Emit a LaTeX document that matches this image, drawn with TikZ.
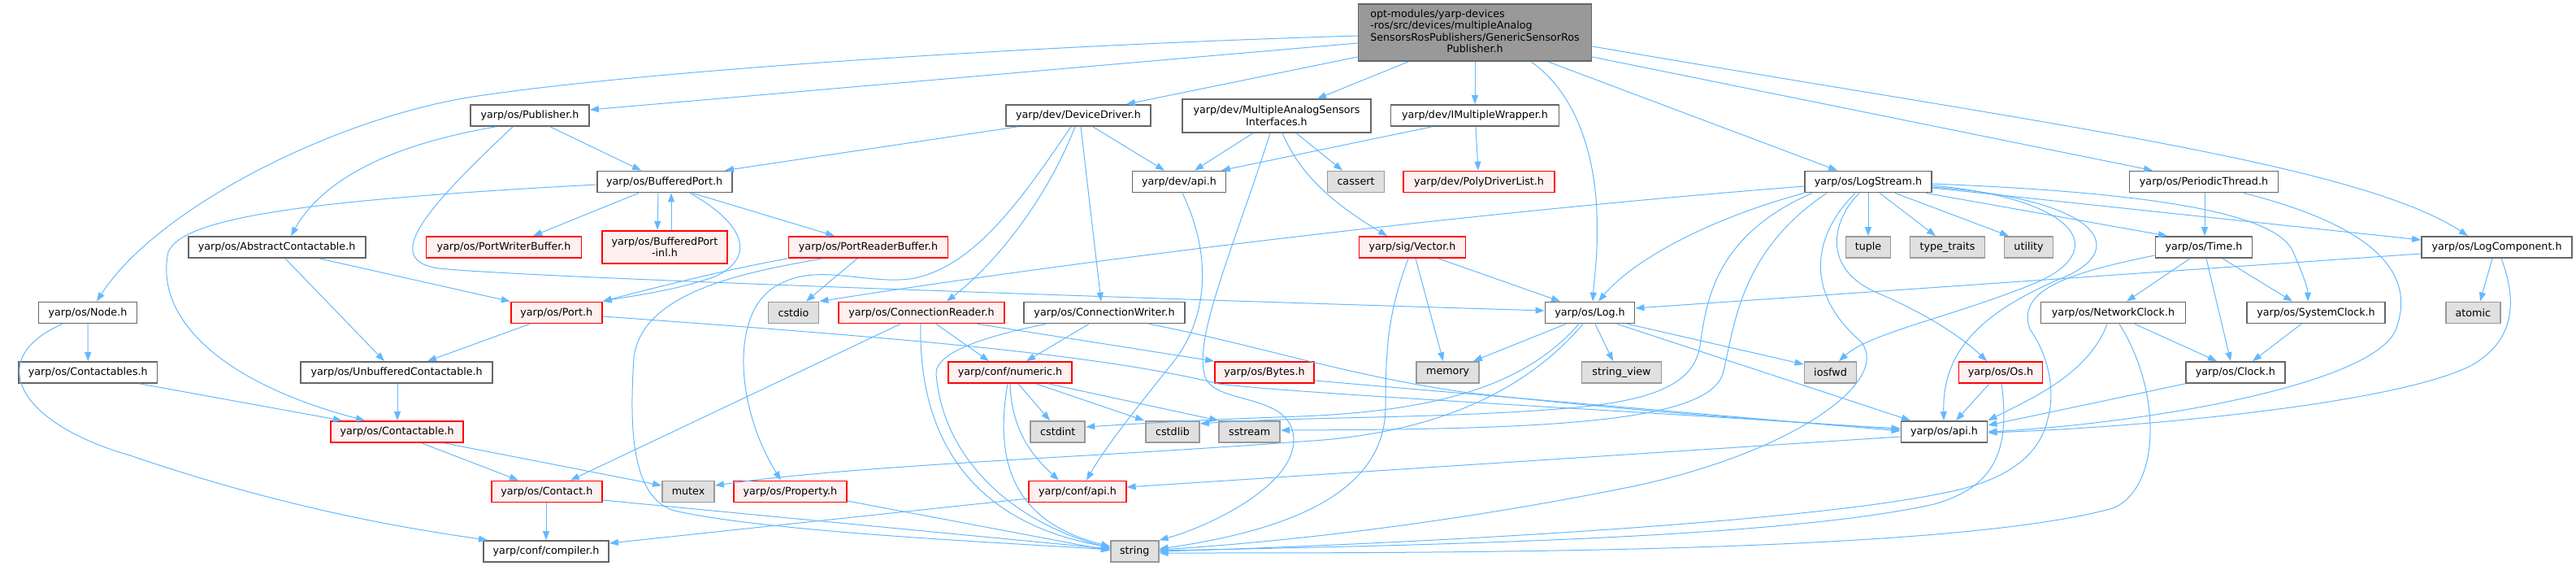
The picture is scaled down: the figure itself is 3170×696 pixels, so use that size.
\documentclass[tikz,border=0pt]{standalone}
\usepackage{fontspec}
\setmainfont{DejaVu Sans}
\usetikzlibrary{arrows.meta}
\definecolor{edgec}{HTML}{63B8FF}
\definecolor{bordgray}{HTML}{666666}
\definecolor{extbord}{HTML}{999999}
\definecolor{extfill}{HTML}{E0E0E0}
\definecolor{redfill}{HTML}{FFF0F0}
\definecolor{topfill}{HTML}{999999}
\begin{document}
\begin{tikzpicture}[x=1pt,y=-1pt,
  base/.style={rectangle, inner sep=0pt, minimum height=26pt, line width=1.8pt,
    font=\fontsize{12.7}{14.5}\selectfont, text=black, align=center},
  wbox/.style={base, draw=bordgray, fill=white},
  rbox/.style={base, draw=red, fill=redfill},
  xbox/.style={base, draw=extbord, fill=extfill},
  tbox/.style={base, draw=bordgray, fill=topfill},
  dep/.style={draw=edgec, line width=1pt, -{Triangle[length=11pt,width=8pt]}}
]
\useasboundingbox (0,0) rectangle (3170,696);
% ---------- nodes ----------
\node[tbox, minimum width=287pt, minimum height=70pt] (top) at (1815,40)
  {\begin{tabular}{@{}l@{}}opt-modules/yarp-devices\\-ros/src/devices/multipleAnalog\\SensorsRosPublishers/GenericSensorRos\\\multicolumn{1}{@{}c@{}}{Publisher.h}\end{tabular}};
\node[wbox, minimum width=146pt] (pub) at (652,142) {yarp/os/Publisher.h};
\node[wbox, minimum width=178pt] (dd) at (1327,142) {yarp/dev/DeviceDriver.h};
\node[wbox, minimum width=232pt, minimum height=40.5pt] (mas) at (1571,142.5) {yarp/dev/MultipleAnalogSensors\\Interfaces.h};
\node[wbox, minimum width=207pt] (imw) at (1815,142) {yarp/dev/IMultipleWrapper.h};
\node[wbox, minimum width=166pt] (bp) at (817.6,223.5) {yarp/os/BufferedPort.h};
\node[wbox, minimum width=115pt] (dapi) at (1451,223.5) {yarp/dev/api.h};
\node[xbox, minimum width=70pt] (cass) at (1668.5,223.5) {cassert};
\node[rbox, minimum width=186pt] (pdl) at (1820,223.5) {yarp/dev/PolyDriverList.h};
\node[wbox, minimum width=156pt] (ls) at (2299,223.5) {yarp/os/LogStream.h};
\node[wbox, minimum width=183pt] (pt) at (2712,223.5) {yarp/os/PeriodicThread.h};
\node[wbox, minimum width=218pt] (ac) at (340.6,304) {yarp/os/AbstractContactable.h};
\node[rbox, minimum width=191pt] (pwb) at (620,304) {yarp/os/PortWriterBuffer.h};
\node[rbox, minimum width=154pt, minimum height=40pt] (bpi) at (818,303.7) {yarp/os/BufferedPort\\-inl.h};
\node[rbox, minimum width=196pt] (prb) at (1068.5,304) {yarp/os/PortReaderBuffer.h};
\node[rbox, minimum width=131pt] (vec) at (1738,304) {yarp/sig/Vector.h};
\node[xbox, minimum width=55pt] (tup) at (2299,304) {tuple};
\node[xbox, minimum width=92pt] (tt) at (2396.5,304) {type\_traits};
\node[xbox, minimum width=60pt] (util) at (2496.5,304) {utility};
\node[wbox, minimum width=119pt] (tim) at (2712,304) {yarp/os/Time.h};
\node[wbox, minimum width=185pt] (lc) at (3072.5,304) {yarp/os/LogComponent.h};
\node[wbox, minimum width=121pt] (nod) at (108,384.5) {yarp/os/Node.h};
\node[rbox, minimum width=112pt] (prt) at (684.7,384.5) {yarp/os/Port.h};
\node[xbox, minimum width=62pt] (cstdio) at (976.5,384.5) {cstdio};
\node[rbox, minimum width=204pt] (cr) at (1134,384.5) {yarp/os/ConnectionReader.h};
\node[wbox, minimum width=198.5pt] (cw) at (1359,384.5) {yarp/os/ConnectionWriter.h};
\node[wbox, minimum width=110pt] (lg) at (1956.5,384.5) {yarp/os/Log.h};
\node[wbox, minimum width=178pt] (nc) at (2600.5,384.5) {yarp/os/NetworkClock.h};
\node[wbox, minimum width=170pt] (sc) at (2850,384.5) {yarp/os/SystemClock.h};
\node[xbox, minimum width=67pt] (atom) at (3043.3,384.5) {atomic};
\node[wbox, minimum width=170.5pt] (ctbs) at (108.3,458) {yarp/os/Contactables.h};
\node[wbox, minimum width=236pt] (uc) at (488.2,458) {yarp/os/UnbufferedContactable.h};
\node[rbox, minimum width=152pt] (num) at (1243,458) {yarp/conf/numeric.h};
\node[rbox, minimum width=122pt] (byt) at (1556,458) {yarp/os/Bytes.h};
\node[xbox, minimum width=77pt] (mem) at (1781.7,458) {memory};
\node[xbox, minimum width=98pt] (sv) at (1995.5,458) {string\_view};
\node[xbox, minimum width=64pt] (iosf) at (2252.5,458) {iosfwd};
\node[rbox, minimum width=103pt] (os) at (2462,458) {yarp/os/Os.h};
\node[wbox, minimum width=122pt] (clk) at (2750.8,458) {yarp/os/Clock.h};
\node[rbox, minimum width=163pt] (ctb) at (488.6,531) {yarp/os/Contactable.h};
\node[xbox, minimum width=67pt] (cint) at (1301.8,531) {cstdint};
\node[xbox, minimum width=66pt] (clib) at (1443,531) {cstdlib};
\node[xbox, minimum width=75pt] (sstr) at (1537.7,531) {sstream};
\node[wbox, minimum width=106pt] (oapi) at (2392.5,531) {yarp/os/api.h};
\node[rbox, minimum width=136pt] (cnt) at (672.8,604.5) {yarp/os/Contact.h};
\node[xbox, minimum width=64pt] (mtx) at (847,604.5) {mutex};
\node[rbox, minimum width=139pt] (prop) at (972.3,604.5) {yarp/os/Property.h};
\node[rbox, minimum width=119.4pt] (capi) at (1326,604.5) {yarp/conf/api.h};
\node[wbox, minimum width=154pt] (comp) at (672,678) {yarp/conf/compiler.h};
\node[xbox, minimum width=58.7pt] (str) at (1396.3,678) {string};
% ---------- edges ----------
% top
\draw[dep] (top.west |- 0,44) .. controls (1300,55) and (800,85) .. (575,120) .. controls (400,150) and (190,260) .. (119,0 |- nod.north);
\draw[dep] (top.west |- 0,53) -- (pub.east |- 0,135);
\draw[dep] (top.west |- 0,70) -- (1386,0 |- dd.north);
\draw[dep] (1733,0 |- top.south) -- (1621,0 |- mas.north);
\draw[dep] (1815,0 |- top.south) -- (1815,0 |- imw.north);
\draw[dep] (1884,0 |- top.south) .. controls (1940,115) and (1962,190) .. (1965,260) .. controls (1967,310) and (1962,340) .. (1960,0 |- lg.north);
\draw[dep] (1905,0 |- top.south) -- (2261,0 |- ls.north);
\draw[dep] (top.east |- 0,70) -- (2649,0 |- pt.north);
\draw[dep] (top.east |- 0,57) .. controls (2500,150) and (2900,200) .. (3037,0 |- lc.north);
% publisher
\draw[dep] (677,0 |- pub.south) -- (789,0 |- bp.north);
\draw[dep] (610,0 |- pub.south) .. controls (470,180) and (395,225) .. (358,0 |- ac.north);
\draw[dep] (631,0 |- pub.south) .. controls (520,260) and (470,320) .. (540,330) .. controls (650,342) and (1500,370) .. (lg.west |- 0,382);
% device driver
\draw[dep] (1252,0 |- dd.south) -- (892,0 |- bp.north);
\draw[dep] (1345,0 |- dd.south) -- (1433,0 |- dapi.north);
\draw[dep] (1323,0 |- dd.south) .. controls (1290,240) and (1230,320) .. (1165,0 |- cr.north);
\draw[dep] (1318,0 |- dd.south) .. controls (1260,240) and (1200,330) .. (1120,343) .. controls (1060,350) and (1000,320) .. (950,355) .. controls (900,390) and (905,500) .. (961,0 |- prop.north);
\draw[dep] (1330,0 |- dd.south) -- (1355,0 |- cw.north);
% multiple analog sensors
\draw[dep] (1542,0 |- mas.south) -- (1470,0 |- dapi.north);
\draw[dep] (1595,0 |- mas.south) -- (1652,0 |- cass.north);
\draw[dep] (1578,0 |- mas.south) .. controls (1600,215) and (1640,250) .. (1707,0 |- vec.north);
\draw[dep] (1563,0 |- mas.south) .. controls (1520,300) and (1470,410) .. (1482,460) .. controls (1490,500) and (1590,480) .. (1592,540) .. controls (1593,600) and (1480,650) .. (str.north east);
% imultiplewrapper
\draw[dep] (1762,0 |- imw.south) -- (1503,0 |- dapi.north);
\draw[dep] (1816,0 |- imw.south) -- (1819,0 |- pdl.north);
% dev api
\draw[dep] (1455,0 |- dapi.south) .. controls (1490,310) and (1490,390) .. (1440,450) .. controls (1400,500) and (1360,550) .. (1337,0 |- capi.north);
% buffered port
\draw[dep] (786,0 |- bp.south) -- (656,0 |- pwb.north);
\draw[dep] (810,0 |- bp.south) -- (809,0 |- bpi.north);
\draw[dep] (826,0 |- bpi.north) -- (826,0 |- bp.south);
\draw[dep] (852,0 |- bp.south) -- (1027,0 |- prb.north);
\draw[dep] (849,0 |- bp.south) .. controls (925,280) and (925,320) .. (880,340) .. controls (830,358) and (770,365) .. (prt.north east);
\draw[dep] (bp.west |- 0,227) .. controls (400,245) and (225,265) .. (207,310) .. controls (190,390) and (270,470) .. (449,0 |- ctb.north);
% abstract contactable
\draw[dep] (351,0 |- ac.south) -- (473,0 |- uc.north);
\draw[dep] (393,0 |- ac.south) -- (prt.north west);
% port reader buffer
\draw[dep] (1055,0 |- prb.south) -- (992,0 |- cstdio.north);
\draw[dep] (prb.south west) .. controls (900,330) and (800,355) .. (prt.north east);
\draw[dep] (1012,0 |- prb.south) .. controls (930,333) and (790,355) .. (780,440) .. controls (775,520) and (775,612) .. (830,628) .. controls (950,655) and (1250,668) .. (str.west |- 0,676);
% port
\draw[dep] (652,0 |- prt.south) -- (526,0 |- uc.north);
\draw[dep] (prt.east |- 0,389) .. controls (1100,415) and (1350,435) .. (1500,472) .. controls (1600,485) and (2100,510) .. (oapi.west |- 0,528);
% node
\draw[dep] (nod.south) -- (ctbs.north);
\draw[dep] (77,0 |- nod.south) .. controls (-20,440) and (20,520) .. (160,560) .. controls (350,625) and (500,650) .. (600,0 |- comp.north);
% contactables
\draw[dep] (172,0 |- ctbs.south) -- (421,0 |- ctb.north);
\draw[dep] (489,0 |- uc.south) -- (489,0 |- ctb.north);
\draw[dep] (519,0 |- ctb.south) -- (638,0 |- cnt.north);
\draw[dep] (547,0 |- ctb.south) -- (mtx.west |- 0,597);
\draw[dep] (672,0 |- cnt.south) -- (672,0 |- comp.north);
\draw[dep] (cnt.east |- 0,615) -- (str.west |- 0,675);
\draw[dep] (prop.east |- 0,616) -- (str.west |- 0,677);
\draw[dep] (capi.west |- 0,613) -- (comp.east |- 0,668);
% connection reader
\draw[dep] (1108,0 |- cr.south) -- (702,0 |- cnt.north);
\draw[dep] (1152,0 |- cr.south) -- (1217,0 |- num.north);
\draw[dep] (1133,0 |- cr.south) .. controls (1130,520) and (1180,640) .. (str.west |- 0,673);
\draw[dep] (1203,0 |- cr.south) -- (byt.north west);
% connection writer
\draw[dep] (1340,0 |- cw.south) -- (1263,0 |- num.north);
\draw[dep] (1287,0 |- cw.south) .. controls (1230,410) and (1150,430) .. (1152,460) .. controls (1160,560) and (1240,640) .. (str.west |- 0,674);
\draw[dep] (1414,0 |- cw.south) .. controls (1550,425) and (1650,460) .. (1800,482) .. controls (1950,500) and (2200,520) .. (oapi.west |- 0,527);
% numeric
\draw[dep] (1253,0 |- num.south) -- (1292,0 |- cint.north);
\draw[dep] (1275,0 |- num.south) -- (1408,0 |- clib.north);
\draw[dep] (1290,0 |- num.south) -- (sstr.north west);
\draw[dep] (1243,0 |- num.south) .. controls (1245,530) and (1270,560) .. (1303,0 |- capi.north);
\draw[dep] (1240,0 |- num.south) .. controls (1225,560) and (1240,640) .. (str.west |- 0,672);
% bytes
\draw[dep] (byt.east |- 0,468) -- (oapi.west |- 0,530);
% vector
\draw[dep] (1770,0 |- vec.south) -- (1920,0 |- lg.north);
\draw[dep] (1742,0 |- vec.south) -- (1776,0 |- mem.north);
\draw[dep] (1733,0 |- vec.south) .. controls (1710,380) and (1705,420) .. (1705,500) .. controls (1705,600) and (1600,650) .. (str.east |- 0,675);
% log
\draw[dep] (1927,0 |- lg.south) -- (1813,0 |- mem.north);
\draw[dep] (1963,0 |- lg.south) -- (1985,0 |- sv.north);
\draw[dep] (2003,0 |- lg.south) -- (iosf.west |- 0,448);
\draw[dep] (1990,0 |- lg.south) -- (2351,0 |- oapi.north);
\draw[dep] (1943,0 |- lg.south) .. controls (1880,470) and (1780,505) .. (1600,512) .. controls (1480,516) and (1400,521) .. (cint.east |- 0,525);
\draw[dep] (1948,0 |- lg.south) .. controls (1870,490) and (1750,535) .. (1600,543) .. controls (1350,562) and (1050,572) .. (mtx.east |- 0,597);
% log component
\draw[dep] (lc.west |- 0,312) -- (lg.east |- 0,379);
\draw[dep] (3067,0 |- lc.south) -- (3052,0 |- atom.north);
\draw[dep] (3078,0 |- lc.south) .. controls (3098,370) and (3095,420) .. (3040,450) .. controls (2950,495) and (2650,525) .. (oapi.east |- 0,532);
% periodic thread
\draw[dep] (2713,0 |- pt.south) -- (2713,0 |- tim.north);
\draw[dep] (2761,0 |- pt.south) .. controls (2930,280) and (2970,340) .. (2950,400) .. controls (2935,470) and (2650,520) .. (oapi.east |- 0,531);
% time
\draw[dep] (2695,0 |- tim.south) -- (2617,0 |- nc.north);
\draw[dep] (2715,0 |- tim.south) -- (2745,0 |- clk.north);
\draw[dep] (2735,0 |- tim.south) -- (2821,0 |- sc.north);
\draw[dep] (tim.west |- 0,314) .. controls (2550,335) and (2480,355) .. (2498,405) .. controls (2520,435) and (2530,480) .. (2520,515) .. controls (2510,560) and (2470,592) .. (2388,607) .. controls (2200,645) and (1700,670) .. (str.east |- 0,678);
% network clock
\draw[dep] (2593,0 |- nc.south) .. controls (2570,460) and (2500,490) .. (oapi.north east);
\draw[dep] (2608,0 |- nc.south) .. controls (2660,480) and (2660,600) .. (2600,625) .. controls (2400,680) and (1800,680) .. (str.east |- 0,680);
\draw[dep] (2627,0 |- nc.south) -- (2728,0 |- clk.north);
% system clock, clock, os
\draw[dep] (2832,0 |- sc.south) -- (2772,0 |- clk.north);
\draw[dep] (clk.south west) -- (oapi.east |- 0,523);
\draw[dep] (2448,0 |- os.south) -- (2407,0 |- oapi.north);
\draw[dep] (2463,0 |- os.south) .. controls (2475,560) and (2450,600) .. (2380,620) .. controls (2200,660) and (1800,670) .. (str.east |- 0,677);
\draw[dep] (oapi.west |- 0,537) -- (capi.east |- 0,599);
% log stream
\draw[dep] (ls.west |- 0,229) .. controls (1800,262) and (1330,320) .. (cstdio.north east);
\draw[dep] (ls.south west) .. controls (2100,270) and (2010,320) .. (1967,0 |- lg.north);
\draw[dep] (2299,0 |- ls.south) -- (2299,0 |- tup.north);
\draw[dep] (2313,0 |- ls.south) -- (2382,0 |- tt.north);
\draw[dep] (2332,0 |- ls.south) -- (2472,0 |- util.north);
\draw[dep] (2370,0 |- ls.south) -- (2667,0 |- tim.north);
\draw[dep] (ls.east |- 0,231) -- (lc.west |- 0,295);
\draw[dep] (ls.east |- 0,226) .. controls (2600,235) and (2800,255) .. (2822,310) .. controls (2835,340) and (2840,355) .. (2840,0 |- sc.north);
\draw[dep] (2288,0 |- ls.south) .. controls (2255,270) and (2240,330) .. (2310,360) .. controls (2380,390) and (2420,420) .. (2445,0 |- os.north);
\draw[dep] (ls.east |- 0,228) .. controls (2560,245) and (2600,310) .. (2500,350) .. controls (2400,390) and (2300,410) .. (2263,0 |- iosf.north);
\draw[dep] (ls.east |- 0,230) .. controls (2590,245) and (2625,310) .. (2530,345) .. controls (2440,385) and (2390,430) .. (2392,0 |- oapi.north);
\draw[dep] (2283,0 |- ls.south) .. controls (2230,290) and (2220,360) .. (2290,420) .. controls (2330,470) and (2200,560) .. (2000,600) .. controls (1800,640) and (1600,665) .. (str.east |- 0,676);
\draw[dep] (2230,0 |- ls.south) .. controls (2110,290) and (2100,370) .. (2092,425) .. controls (2085,470) and (2040,490) .. (1950,500) .. controls (1800,515) and (1600,512) .. (clib.east |- 0,521);
\draw[dep] (2248,0 |- ls.south) .. controls (2140,310) and (2135,400) .. (2120,460) .. controls (2100,520) and (1900,528) .. (sstr.east |- 0,529);
\end{tikzpicture}
\end{document}
